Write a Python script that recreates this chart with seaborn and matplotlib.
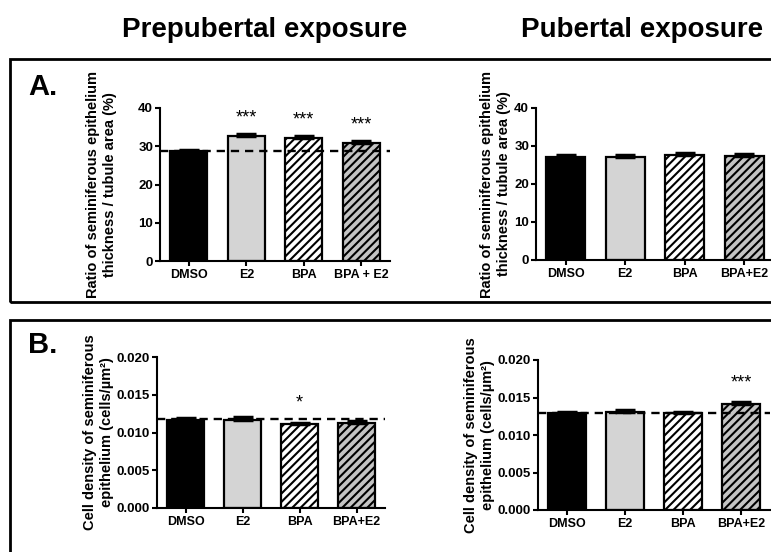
import numpy as np
import matplotlib
matplotlib.use("Agg")
import matplotlib.pyplot as plt
from matplotlib.patches import Rectangle
from matplotlib.ticker import FormatStrFormatter
import seaborn as sns

# group labels
groups_a_left = ["DMSO", "E2", "BPA", "BPA + E2"]
groups_other = ["DMSO", "E2", "BPA", "BPA+E2"]

# A: ratio of seminiferous epithelium thickness / tubule area (%)
ratio_prepub = [28.8, 32.7, 32.2, 30.9]
ratio_prepub_sem = [0.3, 0.5, 0.4, 0.4]
ratio_pub = [27.2, 27.2, 27.7, 27.4]
ratio_pub_sem = [0.4, 0.4, 0.5, 0.4]

# B: cell density of seminiferous epithelium (cells/um2)
dens_prepub = [0.0117, 0.0117, 0.0111, 0.0113]
dens_prepub_sem = [0.0002, 0.0003, 0.0002, 0.0002]
dens_pub = [0.0129, 0.0131, 0.0129, 0.0141]
dens_pub_sem = [0.0002, 0.0003, 0.0002, 0.0003]

# significance marks
stars_ratio_prepub = ["", "***", "***", "***"]
stars_dens_prepub = ["", "", "*", ""]
stars_dens_pub = ["", "", "", "***"]

bar_colors = ["#000000", "#d4d4d4", "#ffffff", "#c4c4c4"]
bar_hatches = [None, None, "////", "////"]

sns.set_style("ticks")
plt.rcParams['font.family'] = ['Liberation Sans', 'DejaVu Sans']
plt.rcParams['font.weight'] = 'bold'
plt.rcParams['hatch.linewidth'] = 1.5
for key in ['text.color', 'axes.labelcolor', 'xtick.color', 'ytick.color']:
    plt.rcParams[key] = 'black'

W, H = 771, 552
fig = plt.figure(figsize=(W / 100, H / 100), dpi=100)


def px_axes(x0, x1, ytop, ybot):
    ax = fig.add_axes([x0 / W, 1 - ybot / H, (x1 - x0) / W, (ybot - ytop) / H])
    ax._px = (x0, x1)
    return ax


def draw_panel(ax, groups, vals, sems, ymax, yticks, ylabel, label_px, ref=None,
               stars=None, star_off=0.0, fmt=None):
    sns.barplot(x=groups, y=vals, hue=groups, palette=bar_colors, legend=False,
                ax=ax, width=0.65, edgecolor="black", linewidth=1.6, saturation=1)
    for patch, h in zip(ax.patches, bar_hatches):
        if h:
            patch.set_hatch(h)
    xs = np.arange(len(groups))
    ax.errorbar(xs, vals, yerr=[np.zeros(len(vals)), sems], fmt="none",
                ecolor="black", elinewidth=1.6, capsize=7.5, capthick=2.5)
    if ref is not None:
        ax.axhline(ref, color="black", lw=1.7, ls=(0, (3.5, 2.5)), zorder=5)
    if stars is not None:
        for x, v, s in zip(xs, vals, stars):
            if s:
                ax.text(x, v + star_off, s, ha="center", va="center",
                        fontsize=13, fontweight="normal")
    ax.set_xlim(-0.5, len(groups) - 0.5)
    ax.set_ylim(0, ymax)
    ax.set_yticks(yticks)
    if fmt:
        ax.yaxis.set_major_formatter(FormatStrFormatter(fmt))
    ax.set_ylabel(ylabel, fontsize=10.5, fontweight="bold", linespacing=1.3)
    x0, x1 = ax._px
    ax.yaxis.set_label_coords((label_px - x0) / (x1 - x0), 0.5)
    ax.set_xlabel("")
    sns.despine(ax=ax)
    for sp in ["left", "bottom"]:
        ax.spines[sp].set_linewidth(1.5)
        ax.spines[sp].set_color("black")
    ax.tick_params(axis="both", length=3.5, width=1.5, color="black", pad=1.5)
    ax.tick_params(axis="x", labelsize=9, pad=2)
    ax.tick_params(axis="y", labelsize=9.5)
    for lab in ax.get_xticklabels() + ax.get_yticklabels():
        lab.set_fontweight("bold")


ylab_a = "Ratio of seminiferous epithelium\nthickness / tubule area (%)"
ylab_b = "Cell density of seminiferous\nepithelium (cells/µm²)"

ax1 = px_axes(160, 390, 108, 261)
draw_panel(ax1, groups_a_left, ratio_prepub, ratio_prepub_sem, 40, [0, 10, 20, 30, 40],
           ylab_a, 117, ref=ratio_prepub[0], stars=stars_ratio_prepub, star_off=4.6)

ax2 = px_axes(536, 774, 108, 260)
draw_panel(ax2, groups_other, ratio_pub, ratio_pub_sem, 40, [0, 10, 20, 30, 40],
           ylab_a, 511)

ax3 = px_axes(157, 385, 357, 508)
draw_panel(ax3, groups_other, dens_prepub, dens_prepub_sem, 0.020,
           [0, 0.005, 0.010, 0.015, 0.020], ylab_b, 114, ref=0.0118,
           stars=stars_dens_prepub, star_off=0.0028, fmt="%.3f")

ax4 = px_axes(538, 770, 360, 510)
draw_panel(ax4, groups_other, dens_pub, dens_pub_sem, 0.020,
           [0, 0.005, 0.010, 0.015, 0.020], ylab_b, 495, ref=0.0129,
           stars=stars_dens_pub, star_off=0.0028, fmt="%.3f")

# panel frames
for ytop, ybot in [(59, 302), (320, 570)]:
    fig.patches.append(Rectangle((10 / W, 1 - ybot / H), 800 / W, (ybot - ytop) / H,
                                 transform=fig.transFigure, fill=False,
                                 edgecolor="black", lw=2))

fig.text(265 / W, 1 - 37 / H, "Prepubertal exposure", ha="center", va="baseline",
         fontsize=20, fontweight="bold")
fig.text(642 / W, 1 - 37 / H, "Pubertal exposure", ha="center", va="baseline",
         fontsize=20, fontweight="bold")
fig.text(28 / W, 1 - 95 / H, "A.", ha="left", va="baseline", fontsize=21, fontweight="bold")
fig.text(28 / W, 1 - 353 / H, "B.", ha="left", va="baseline", fontsize=21, fontweight="bold")

fig.savefig("out.png", dpi=100)
